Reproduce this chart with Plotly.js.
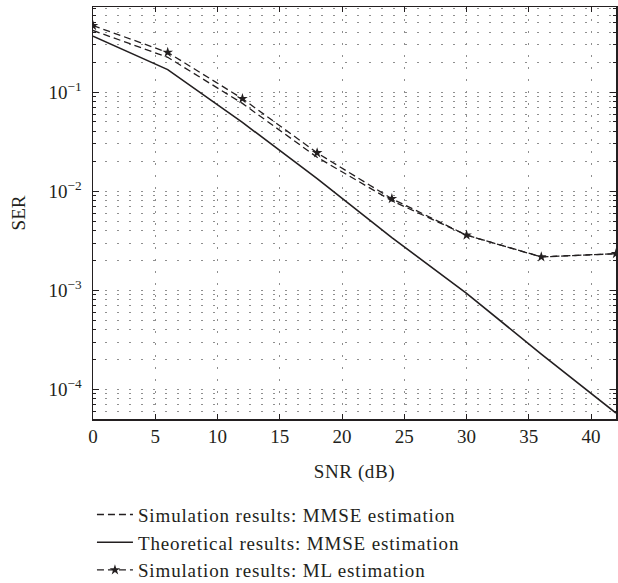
<!DOCTYPE html>
<html>
<head>
<meta charset="utf-8">
<script src="https://cdn.plot.ly/plotly-3.0.1.min.js"></script>
<style>
html,body{margin:0;padding:0;background:#fff;}
#chart{width:618px;height:583px;}
#chart .legendtext{letter-spacing:0.85px;}
#chart .xtitle{letter-spacing:0.6px;}
</style>
</head>
<body>
<div id="chart"></div>
<script>
const snr = [0, 6, 12, 18, 24, 30, 36, 42];
const serSimMMSE = [0.42, 0.225, 0.077, 0.022, 0.0080, 0.0036, 0.00217, 0.00234];
const serTheoMMSE = [0.368, 0.169, 0.0495, 0.0134, 0.0034, 0.00093, 0.000227, 0.0000575];
const serSimML = [0.47, 0.252, 0.086, 0.0244, 0.0084, 0.0036, 0.00217, 0.00234];
const names = ['Simulation results: MMSE estimation', 'Theoretical results: MMSE estimation', 'Simulation results: ML estimation'];
const yTickVals = [1e-4, 1e-3, 1e-2, 1e-1];
const yTickText = ['10<sup>−4</sup>', '10<sup>−3</sup>', '10<sup>−2</sup>', '10<sup>−1</sup>'];
const xTickVals = [0, 5, 10, 15, 20, 25, 30, 35, 40];

const minorVals = [];
[1e-5, 1e-4, 1e-3, 1e-2, 1e-1].forEach(d => { for (let m = 2; m <= 9; m++) minorVals.push(m * d); });

const ink = '#231f20';
const gridCol = '#8f8f8f';
const fam = '"Liberation Serif", "Times New Roman", serif';
const font = {family: fam, size: 19, color: ink};

const traces = [
  {x: snr, y: serSimMMSE, name: names[0], mode: 'lines', line: {color: ink, width: 1.3, dash: '7px,4px'}},
  {x: snr, y: serTheoMMSE, name: names[1], mode: 'lines', line: {color: ink, width: 1.6}},
  {x: snr, y: serSimML, name: names[2], mode: 'lines+markers', line: {color: ink, width: 1.3, dash: '7px,4px'},
   marker: {symbol: 'star', size: 8, color: ink}}
];

const layout = {
  width: 618, height: 583,
  margin: {l: 93, r: 2, t: 7, b: 164, autoexpand: false},
  paper_bgcolor: '#fff', plot_bgcolor: '#fff',
  font: font,
  showlegend: true,
  legend: {x: -0.002, xanchor: 'left', y: -0.186, yanchor: 'top', bgcolor: 'rgba(0,0,0,0)',
           itemwidth: 36,
           font: {family: fam, size: 19, color: ink}, tracegroupgap: 0},
  xaxis: {
    range: [0, 42], tickmode: 'array', tickvals: xTickVals,
    ticks: 'inside', ticklen: 5, tickcolor: ink, tickwidth: 1,
    showline: true, linecolor: ink, linewidth: 1.5, mirror: 'ticks',
    showgrid: true, gridcolor: gridCol, gridwidth: 1, griddash: '2px,10px',
    zeroline: false,
    tickfont: {family: fam, size: 19, color: ink},
    title: {text: 'SNR (dB)', font: {family: fam, size: 19, color: ink}, standoff: 18}
  },
  yaxis: {
    type: 'log', range: [-4.30, -0.14], tickmode: 'array', tickvals: yTickVals, ticktext: yTickText,
    ticks: 'inside', ticklen: 6, tickcolor: ink, tickwidth: 1,
    showline: true, linecolor: ink, linewidth: 1.5, mirror: 'ticks',
    showgrid: true, gridcolor: gridCol, gridwidth: 1, griddash: '2px,10px',
    zeroline: false,
    ticklabelstandoff: 6,
    tickfont: {family: fam, size: 19, color: ink},
    minor: {tickmode: 'array', tickvals: minorVals, ticks: 'inside', ticklen: 3, tickcolor: ink,
            showgrid: true, gridcolor: gridCol, gridwidth: 1, griddash: '2px,10px'},
    title: {text: 'SER', font: {family: fam, size: 19, color: ink}, standoff: 18}
  }
};

Plotly.newPlot('chart', traces, layout, {displayModeBar: false, staticPlot: true}).then(gd => {
  gd.querySelectorAll('.legend [clip-path]').forEach(el => el.removeAttribute('clip-path'));
  gd.querySelectorAll('.legend .bg').forEach(el => el.setAttribute('width', 600));
});
</script>
</body>
</html>
